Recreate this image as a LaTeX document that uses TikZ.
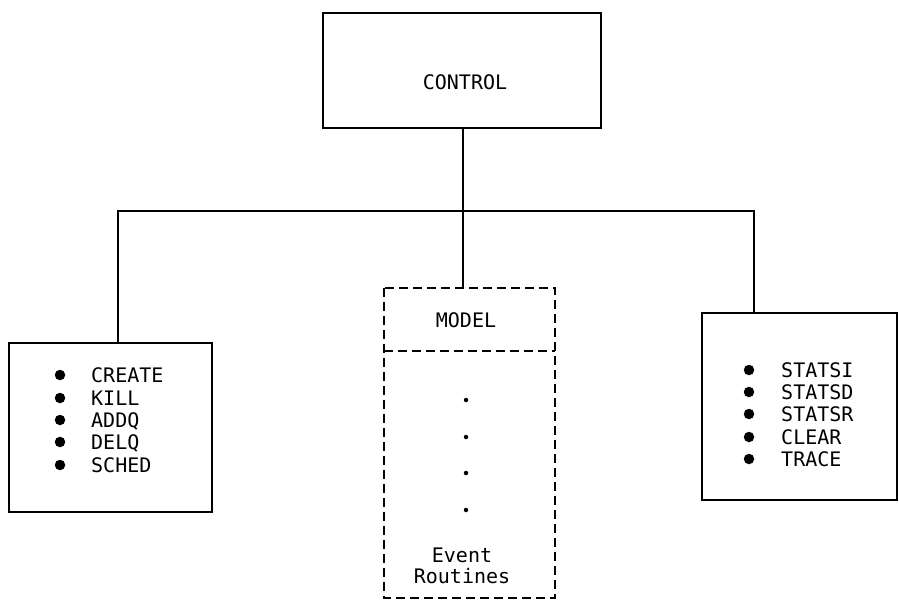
\documentclass[tikz,border=0pt]{standalone}
\usepackage{fontspec}
\setmonofont{DejaVu Sans Mono}
\begin{document}
\begin{tikzpicture}[x=1pt,y=-1pt,
  box/.style={draw=black,line width=2.7pt},
  dbox/.style={draw=black,line width=2.7pt,dash pattern=on 9pt off 5pt},
  conn/.style={draw=black,line width=2.2pt},
  lbl/.style={font=\ttfamily\fontsize{20}{22}\selectfont,inner sep=0pt,anchor=base west},
  clbl/.style={font=\ttfamily\fontsize{20}{22}\selectfont,inner sep=0pt},
  bul/.style={circle,fill=black,inner sep=0pt,minimum size=10.5pt},
  dot/.style={circle,fill=black,inner sep=0pt,minimum size=4.5pt}]
\useasboundingbox (0,0) rectangle (899,600);
% boxes
\draw[box] (323,13) rectangle (601,128);
\node[clbl] (ctrl) at (465,82) {CONTROL};
\coordinate (ctrlb) at (463,128);
\draw[box] (9,343) rectangle (212,512);
\coordinate (leftt) at (118,343);
\draw[box] (702,313) rectangle (897,500);
\coordinate (rightt) at (754,313);
\draw[dbox] (384,288) rectangle (555,598);
\draw[dbox] (384,351) -- (555,351);
\coordinate (midt) at (463,288);
% bus
\coordinate (bl) at (118,211);
\coordinate (bm) at (463,211);
\coordinate (br) at (754,211);
\draw[conn] (ctrlb) -- (bm) -- (midt);
\draw[conn] (leftt) -- (bl) -- (br) -- (rightt);
% middle text
\node[clbl] (model) at (466,320) {MODEL};
\foreach \yy/\nm in {400/d1,437/d2,473/d3,510/d4}
  \node[dot] (\nm) at (466,\yy) {};
\node[clbl,align=center] (ev) at (462,566) {Event\\[-1pt]Routines};
% left list
\foreach \yy/\t [count=\i] in {382/CREATE,405/KILL,427/ADDQ,449/DELQ,472/SCHED}{
  \node[bul] (lb\i) at (60,\yy-7) {};
  \node[lbl] (lt\i) at (91,\yy) {\t};
}
% right list
\foreach \yy/\t [count=\i] in {377/STATSI,399/STATSD,421/STATSR,444/CLEAR,466/TRACE}{
  \node[bul] (rb\i) at (749,\yy-7) {};
  \node[lbl] (rt\i) at (781,\yy) {\t};
}
\end{tikzpicture}
\end{document}
